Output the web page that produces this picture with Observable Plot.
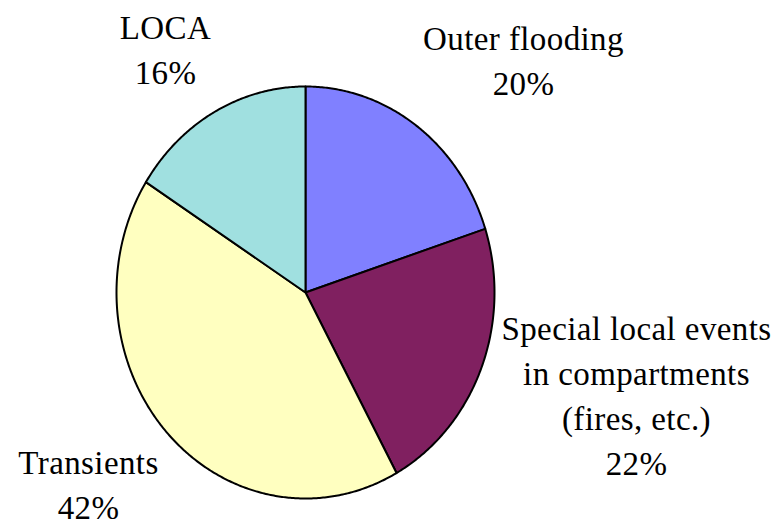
<!DOCTYPE html>
<html>
<head>
<meta charset="utf-8">
<script src="https://cdn.jsdelivr.net/npm/d3@7"></script>
<script src="https://cdn.jsdelivr.net/npm/@observablehq/plot@0.6"></script>
<style>
  html, body { margin: 0; padding: 0; background: #ffffff; font-family: "Liberation Serif", serif; }
</style>
</head>
<body>
<div id="chart"></div>
<script>
// Data (clockwise from 12 o'clock)
const categories = ["Outer flooding", "Special local events\nin compartments\n(fires, etc.)", "Transients", "LOCA"];
const values = [20, 22, 42, 16];
const colors = ["#8080FF", "#802060", "#FFFFC0", "#A0E0E0"];

// Layout
const W = 783, H = 527;
const cx = 305, cy = 292, rx = 189, ry = 206;
// label anchor (center x, first-line baseline) in pixels
const labelPx = [[523, 50], [636, 340], [88, 474], [165, 39]];
const fontSize = 33, lineGap = 45;
const FONT = "Liberation Serif";

const total = d3.sum(values);
const pts = [];
let acc = 0;
values.forEach((v, i) => {
  const a0 = acc / total * 2 * Math.PI;
  const a1 = (acc + v) / total * 2 * Math.PI;
  acc += v;
  pts.push({name: categories[i], x: 0, y: 0});
  const n = Math.max(2, Math.ceil((a1 - a0) / (Math.PI / 360)));
  for (let k = 0; k <= n; k++) {
    const a = a0 + (a1 - a0) * k / n;
    pts.push({name: categories[i], x: Math.sin(a), y: Math.cos(a)});
  }
  pts.push({name: categories[i], x: 0, y: 0});
});

const toUx = px => (px - cx) / rx;
const toUy = py => (cy - py) / ry;
const labels = categories.map((c, i) => ({
  text: c + "\n" + values[i] + "%",
  x: toUx(labelPx[i][0]),
  y: toUy(labelPx[i][1] - 0.71 * lineGap)
}));

const chart = Plot.plot({
  width: W,
  height: H,
  margin: 0,
  x: {domain: [-1, 1], range: [cx - rx, cx + rx], axis: null},
  y: {domain: [-1, 1], range: [cy + ry, cy - ry], axis: null},
  color: {domain: categories, range: colors},
  style: {background: "#ffffff"},
  marks: [
    Plot.line(pts, {x: "x", y: "y", z: "name", fill: "name", stroke: "#000000", strokeWidth: 2, strokeLinejoin: "round"}),
    Plot.text(labels, {
      x: "x", y: "y", text: "text",
      fontFamily: FONT,
      fontSize: fontSize, lineHeight: lineGap / fontSize,
      lineAnchor: "top", textAnchor: "middle", fill: "#000000"
    })
  ]
});
chart.style.fontFamily = FONT;
chart.querySelectorAll("g[aria-label=text], text").forEach(t => {
  t.setAttribute("font-family", FONT);
  t.style.fontFamily = FONT;
  if (t.tagName === "text") t.style.letterSpacing = "0.4px";
});
document.getElementById("chart").appendChild(chart);
</script>
</body>
</html>
